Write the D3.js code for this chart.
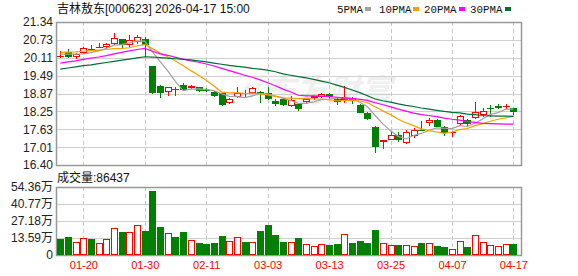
<!DOCTYPE html>
<html>
<head>
<meta charset="utf-8">
<script src="https://cdn.jsdelivr.net/npm/d3@7"></script>
<style>
  body { margin: 0; background: #fff; }
  text { font-family: "Liberation Sans", Arial, "Noto Sans CJK SC", sans-serif; }
</style>
</head>
<body>
<svg id="chart" width="578" height="276"></svg>
<script>
// 吉林敖东 [000623] daily k-line, 2026-01-15 .. 2026-04-17

const dates = ["01-15","01-16","01-19","01-20","01-21","01-22","01-23","01-26","01-27","01-28",
  "01-29","01-30","02-02","02-03","02-04","02-05","02-06","02-09","02-10","02-11",
  "02-12","02-13","02-24","02-25","02-26","02-27","03-02","03-03","03-04","03-05",
  "03-06","03-09","03-10","03-11","03-12","03-13","03-16","03-17","03-18","03-19",
  "03-20","03-23","03-24","03-25","03-26","03-27","03-30","03-31","04-01","04-02",
  "04-03","04-07","04-08","04-09","04-10","04-13","04-14","04-15","04-16","04-17"];

const open  = [20.18,20.30,20.14,20.28,20.42,20.49,20.49,20.58,20.74,20.55,
  20.64,20.74,19.82,19.13,18.93,19.02,19.16,19.05,19.08,19.00,
  18.92,18.88,18.55,18.76,18.90,18.88,18.93,18.90,18.62,18.68,
  18.44,18.51,18.57,18.70,18.75,18.84,18.69,18.65,18.70,18.49,
  18.21,17.72,17.18,17.28,17.42,17.15,17.40,17.62,17.86,17.96,
  17.70,17.55,17.82,17.96,18.01,18.13,18.38,18.43,18.44,18.36];
const close = [20.18,20.14,20.23,20.44,20.42,20.49,20.58,20.78,20.55,20.72,
  20.81,20.55,18.90,18.89,19.08,19.00,18.98,19.14,18.97,18.96,
  18.78,18.47,18.67,18.90,18.84,19.05,18.85,18.67,18.51,18.47,
  18.65,18.33,18.68,18.77,18.85,18.75,18.56,18.70,18.61,18.21,
  17.99,17.02,17.26,17.42,17.28,17.53,17.61,17.59,17.94,17.72,
  17.50,17.55,18.08,17.82,18.24,18.25,18.36,18.37,18.44,18.24];
const low   = [20.09,20.11,20.05,20.22,20.37,20.43,20.43,20.55,20.43,20.47,
  20.58,20.14,18.85,18.70,18.79,18.80,18.96,19.02,18.93,18.93,
  18.76,18.45,18.51,18.70,18.76,18.85,18.55,18.65,18.44,18.44,
  18.39,18.28,18.54,18.65,18.70,18.68,18.47,18.55,18.51,18.18,
  17.95,16.83,16.94,17.25,17.21,17.12,17.32,17.58,17.76,17.70,
  17.41,17.36,17.78,17.76,17.98,18.06,18.07,18.34,18.35,18.14];
const high  = [20.34,20.41,20.28,20.47,20.53,20.60,20.63,20.95,20.75,20.89,
  20.89,20.83,19.82,19.16,19.09,19.11,19.24,19.16,19.11,19.05,
  18.96,18.89,18.70,19.11,18.99,19.08,18.96,19.09,18.67,18.71,
  18.78,18.53,18.70,18.80,18.90,18.90,18.73,19.13,18.76,18.52,
  18.24,17.75,17.28,17.55,17.53,17.61,17.67,17.93,18.02,17.98,
  17.75,17.57,18.12,17.99,18.59,18.36,18.47,18.50,18.51,18.38];
const prevClose = 20.25; // close of the day before the window

// volume, in 万 (10k lots)
const volume = [12.8,14.4,10.4,13.3,12.8,9.6,12.5,21.3,18.4,18.1,
  24.0,19.2,51.2,22.4,17.3,14.4,18.4,11.8,9.8,9.0,
  9.8,15.2,11.0,14.1,10.4,10.4,19.2,24.0,16.0,10.4,
  10.4,13.6,8.8,7.2,8.8,8.0,8.8,16.8,9.6,11.2,
  9.6,20.0,9.6,8.0,8.0,8.0,7.2,9.6,9.6,7.2,
  6.4,4.8,11.2,6.4,16.0,10.4,8.0,7.2,8.8,8.6437];

const ma5  = [20.23,20.23,20.23,20.24,20.28,20.34,20.43,20.54,20.56,20.62,
  20.69,20.68,20.31,19.97,19.65,19.28,18.97,19.02,19.03,19.01,
  18.97,18.86,18.77,18.76,18.73,18.79,18.86,18.86,18.78,18.71,
  18.63,18.53,18.53,18.58,18.66,18.68,18.72,18.73,18.69,18.57,
  18.41,18.11,17.82,17.58,17.39,17.30,17.42,17.49,17.59,17.68,
  17.67,17.66,17.76,17.73,17.84,17.99,18.15,18.21,18.33,18.33];
const ma10 = [20.29,20.30,20.31,20.33,20.35,20.37,20.39,20.42,20.43,20.45,
  20.52,20.56,20.42,20.27,20.14,19.99,19.83,19.66,19.50,19.33,
  19.13,18.92,18.89,18.90,18.87,18.88,18.86,18.82,18.77,18.72,
  18.71,18.69,18.70,18.68,18.68,18.65,18.62,18.63,18.64,18.61,
  18.55,18.41,18.27,18.14,17.98,17.86,17.76,17.65,17.59,17.54,
  17.49,17.54,17.62,17.66,17.76,17.83,17.91,17.98,18.03,18.09];
const ma20 = [19.92,19.96,20.00,20.05,20.09,20.13,20.18,20.24,20.29,20.34,
  20.39,20.43,20.33,20.24,20.19,20.12,20.06,20.00,19.95,19.89,
  19.82,19.74,19.66,19.58,19.50,19.43,19.34,19.24,19.14,19.02,
  18.92,18.81,18.79,18.79,18.78,18.76,18.74,18.72,18.70,18.67,
  18.63,18.55,18.48,18.41,18.33,18.26,18.19,18.14,18.11,18.07,
  18.02,17.98,17.95,17.90,17.87,17.84,17.83,17.82,17.81,17.81];
const ma30 = [19.71,19.75,19.79,19.83,19.86,19.90,19.94,19.98,20.02,20.06,
  20.10,20.14,20.13,20.11,20.09,20.07,20.05,20.03,20.00,19.96,
  19.92,19.88,19.84,19.81,19.78,19.74,19.71,19.68,19.62,19.55,
  19.50,19.45,19.41,19.36,19.30,19.24,19.16,19.08,18.99,18.90,
  18.79,18.68,18.62,18.57,18.51,18.46,18.42,18.37,18.33,18.29,
  18.25,18.22,18.20,18.16,18.14,18.11,18.10,18.09,18.09,18.08];

const priceTicks = [16.40,17.01,17.63,18.25,18.87,19.49,20.11,20.73,21.34];
const volTicks = [0,13.59,27.18,40.77,54.36];
const labelDates = ["01-20","01-30","02-11","03-03","03-13","03-25","04-07","04-17"];

const svg = d3.select("#chart");
const L = 56, R = 522;
const pTop = 22, pBot = 165, vTop = 187, vBot = 255;
const RED = "#ff0000", GREEN = "#008000";

const x = d3.scalePoint().domain(dates).range([60.3, 513.4]);
const y = d3.scaleLinear().domain([16.40, 21.34]).range([pBot, pTop]);
const yv = d3.scaleLinear().domain([0, 54.36]).range([vBot, vTop]);

// --- watermark ---
svg.append("text").attr("x", 232).attr("y", 102)
  .attr("font-size", 32).attr("font-weight", "bold").attr("font-style", "italic")
  .attr("fill", "#000").attr("opacity", 0.06)
  .style("font-family", "'Noto Sans CJK SC'")
  .text("〃东方财富");

// --- grids + y labels ---
function grid(scale, ticks, fmt) {
  const g = svg.append("g").attr("transform", `translate(${L},0)`)
    .call(d3.axisLeft(scale).tickValues(ticks).tickFormat(fmt).tickSize(-(R - L)).tickPadding(3));
  g.select(".domain").remove();
  g.selectAll("line").attr("stroke", "#cfcfcf").attr("shape-rendering", "crispEdges");
  g.selectAll("text").attr("fill", "#222").attr("font-size", 12)
    .style("font-family", "'Liberation Sans', 'Noto Sans CJK SC', sans-serif");
}
grid(y, priceTicks, d3.format(".2f"));
grid(yv, volTicks, d => d === 0 ? "0" : d.toFixed(2) + "万");

// vertical dashed lines at label dates
[[pTop, pBot], [vTop, vBot]].forEach(([a, b]) => {
  svg.append("g").selectAll("line").data(labelDates).join("line")
    .attr("x1", d => Math.round(x(d)) + 0.5).attr("x2", d => Math.round(x(d)) + 0.5)
    .attr("y1", a).attr("y2", b)
    .attr("stroke", "#c8c8c8").attr("stroke-dasharray", "4,3");
});

// frames
[[pTop, pBot], [vTop, vBot]].forEach(([a, b]) => {
  svg.append("rect").attr("x", L + 0.5).attr("y", a + 0.5)
    .attr("width", R - L - 1).attr("height", b - a)
    .attr("fill", "none").attr("stroke", "#999").attr("stroke-width", 1.5);
});

// x labels
const xa = svg.append("g").attr("transform", `translate(0,${vBot})`)
  .call(d3.axisBottom(x).tickValues(labelDates).tickSize(0).tickPadding(6));
xa.select(".domain").remove();
xa.selectAll("text").attr("fill", RED).attr("font-size", 11)
  .style("font-family", "'Liberation Sans', sans-serif");

// --- candles ---
const idx = d3.range(dates.length);
const cx = i => Math.round(x(dates[i]));
const up = i => close[i] >= open[i];

const cg = svg.append("g").attr("shape-rendering", "crispEdges");
idx.forEach(i => {
  const col = up(i) ? RED : GREEN;
  const top = Math.round(y(Math.max(open[i], close[i])));
  const bot = Math.round(y(Math.min(open[i], close[i])));
  const xc = cx(i) + 0.5;
  const hY = Math.round(y(high[i])), lY = Math.round(y(low[i]));
  if (bot - top < 2) {
    cg.append("line").attr("x1", xc).attr("x2", xc).attr("y1", hY).attr("y2", lY).attr("stroke", col);
    cg.append("line").attr("x1", cx(i) - 3).attr("x2", cx(i) + 4)
      .attr("y1", top + 0.5).attr("y2", top + 0.5).attr("stroke", col).attr("stroke-width", 1.5);
  } else if (up(i)) {
    cg.append("line").attr("x1", xc).attr("x2", xc).attr("y1", hY).attr("y2", top).attr("stroke", col);
    cg.append("line").attr("x1", xc).attr("x2", xc).attr("y1", bot).attr("y2", lY).attr("stroke", col);
    cg.append("rect").attr("x", cx(i) - 2.5).attr("y", top + 0.5)
      .attr("width", 6).attr("height", bot - top - 1)
      .attr("fill", "#fff").attr("stroke", col).attr("stroke-width", 1.2);
  } else {
    cg.append("line").attr("x1", xc).attr("x2", xc).attr("y1", hY).attr("y2", lY).attr("stroke", col);
    cg.append("rect").attr("x", cx(i) - 3).attr("y", top)
      .attr("width", 7).attr("height", bot - top).attr("fill", col);
  }
});

// --- moving averages ---
const line = d3.line().x((d, i) => x(dates[i])).y(d => y(d));
[[ma5, "#a0a0a0"], [ma10, "#f5a000"], [ma20, "#ff00ff"], [ma30, "#006e36"]].forEach(([s, c]) => {
  svg.append("path").datum(s).attr("d", line)
    .attr("fill", "none").attr("stroke", c).attr("stroke-width", 1.2);
});

// --- volume bars ---
const vg = svg.append("g").attr("shape-rendering", "crispEdges");
idx.forEach(i => {
  const rise = close[i] >= (i === 0 ? prevClose : close[i - 1]);
  const t = Math.round(yv(volume[i]));
  if (rise) {
    vg.append("rect").attr("x", cx(i) - 2.5).attr("y", t + 0.5)
      .attr("width", 6).attr("height", vBot - t - 1)
      .attr("fill", "#fff").attr("stroke", RED).attr("stroke-width", 1.2);
  } else {
    vg.append("rect").attr("x", cx(i) - 3).attr("y", t)
      .attr("width", 7).attr("height", vBot - t).attr("fill", GREEN);
  }
});

// --- header texts ---
svg.append("text").attr("x", 57).attr("y", 13).attr("font-size", 12).attr("fill", "#111")
  .text("吉林敖东[000623] 2026-04-17 15:00");

const legend = [["5PMA", "#a0a0a0", 337, 365], ["10PMA", "#f5a000", 379, 413],
  ["20PMA", "#ff00ff", 424, 459], ["30PMA", "#006e36", 470, 505]];
legend.forEach(([t, c, tx, sx]) => {
  svg.append("text").attr("x", tx).attr("y", 12.5).attr("font-size", 10.8)
    .style("font-family", "'Liberation Mono', monospace").attr("fill", "#111").text(t);
  svg.append("rect").attr("x", sx).attr("y", 7).attr("width", 6).attr("height", 4).attr("fill", c);
});

svg.append("text").attr("x", 57).attr("y", 182).attr("font-size", 12).attr("fill", "#111")
  .text("成交量:" + Math.round(volume[volume.length - 1] * 10000));
</script>
</body>
</html>
